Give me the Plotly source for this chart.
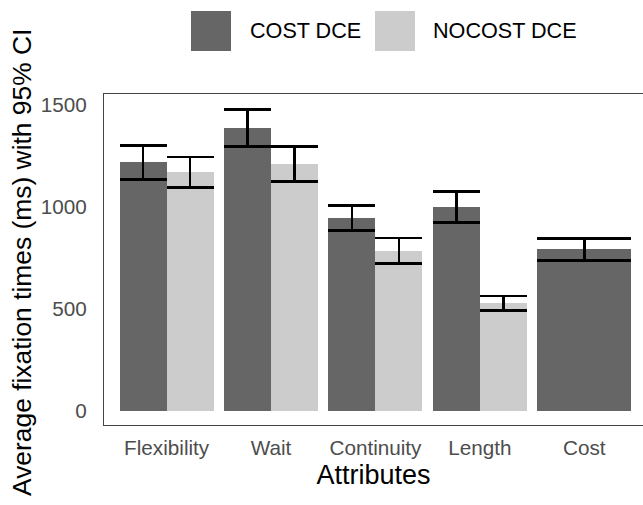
import plotly.graph_objects as go

# Average fixation times per attribute (ms) with 95% CI half-widths
attributes = ["Flexibility", "Wait", "Continuity", "Length", "Cost"]
cost_dce = [1218, 1388, 946, 1001, 792]
cost_dce_ci = [84, 91, 61, 76, 54]
nocost_attributes = ["Flexibility", "Wait", "Continuity", "Length"]
nocost_dce = [1170, 1210, 785, 528]
nocost_dce_ci = [75, 85, 62, 35]
y_ticks = [0, 500, 1000, 1500]

DARK = "#666666"
LIGHT = "#cccccc"
FONT = "Liberation Sans, Arial, sans-serif"

W, H = 643, 505
L, R, T, B = 104, 0, 94, 80
pw, ph = W - L - R, H - T - B
step = 104.4  # px per category

fig = go.Figure()

# COST DCE bars for attributes shared with NOCOST (left half of each slot)
fig.add_trace(go.Bar(
    x=attributes[:4], y=cost_dce[:4], name="COST DCE",
    marker=dict(color=DARK, line=dict(width=0)),
    offset=-0.45, width=0.45,
    error_y=dict(type="data", array=cost_dce_ci[:4], color="black",
                 thickness=2.6, width=0.45 * step / 2),
    showlegend=False,
))
# NOCOST DCE bars (right half)
fig.add_trace(go.Bar(
    x=nocost_attributes, y=nocost_dce, name="NOCOST DCE",
    marker=dict(color=LIGHT, line=dict(width=0)),
    offset=0.0, width=0.45,
    error_y=dict(type="data", array=nocost_dce_ci, color="black",
                 thickness=2.6, width=0.45 * step / 2),
    showlegend=False,
))
# Cost attribute only exists in COST DCE: full-width bar
fig.add_trace(go.Bar(
    x=attributes[4:], y=cost_dce[4:], name="COST DCE",
    marker=dict(color=DARK, line=dict(width=0)),
    offset=-0.45, width=0.9,
    error_y=dict(type="data", array=cost_dce_ci[4:], color="black",
                 thickness=2.6, width=0.9 * step / 2),
    showlegend=False,
))

def px_x(v):
    return (v - L) / pw

def px_y(v):
    return (H - B - v) / ph

# Legend keys and labels above the panel
legend_items = [("COST DCE", DARK, 191, 248), ("NOCOST DCE", LIGHT, 375, 431)]
shapes = []
annotations = []
for label, color, kx, tx in legend_items:
    shapes.append(dict(type="rect", xref="paper", yref="paper",
                       x0=px_x(kx), x1=px_x(kx + 40), y0=px_y(51), y1=px_y(11),
                       fillcolor=color, line=dict(width=0)))
    annotations.append(dict(text=label, xref="paper", yref="paper",
                            x=px_x(tx), y=px_y(31), xanchor="left", yanchor="middle",
                            showarrow=False, font=dict(family=FONT, size=21.6, color="black")))

# Y axis title
annotations.append(dict(text="Average fixation times (ms) with 95% CI",
                        xref="paper", yref="paper", x=px_x(22), y=px_y(263),
                        xanchor="center", yanchor="middle", textangle=-90,
                        showarrow=False, font=dict(family=FONT, size=26.4, color="black")))

fig.update_layout(
    width=W, height=H,
    margin=dict(l=L, r=R, t=T, b=B, pad=0),
    paper_bgcolor="white", plot_bgcolor="white",
    barmode="overlay", bargap=0,
    showlegend=False,
    shapes=shapes, annotations=annotations,
    font=dict(family=FONT),
    xaxis=dict(
        type="category", categoryorder="array", categoryarray=attributes,
        range=[-0.6, -0.6 + pw / step],
        showgrid=False, zeroline=False,
        showline=True, mirror=True, linecolor="#444444", linewidth=1.4,
        ticks="", ticklabelstandoff=4,
        tickfont=dict(family=FONT, size=20.7, color="#4d4d4d"),
        title=dict(text="Attributes", font=dict(family=FONT, size=27, color="black"),
                   standoff=7),
    ),
    yaxis=dict(
        range=[-70, 1554], tickvals=y_ticks,
        showgrid=False, zeroline=False,
        showline=True, mirror=False, linecolor="#444444", linewidth=1.4,
        ticks="", ticklabelstandoff=12,
        tickfont=dict(family=FONT, size=20.7, color="#4d4d4d"),
    ),
)

fig.write_html("out.html")
